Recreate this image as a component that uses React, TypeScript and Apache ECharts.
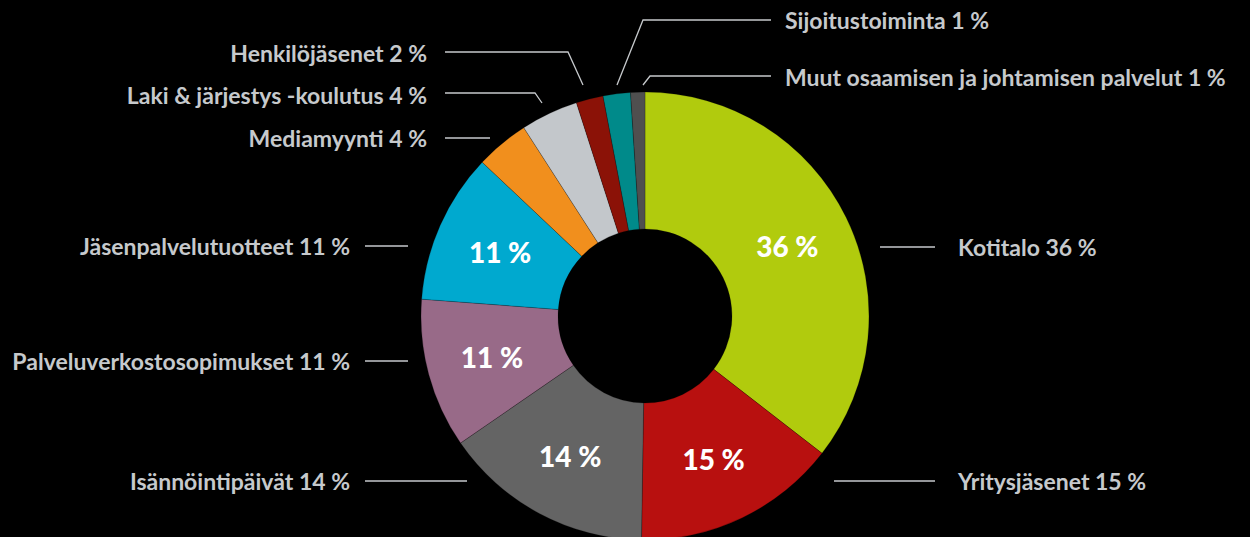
import React, { useEffect, useRef } from "react";
import * as echarts from "echarts";

const categories = [
  "Kotitalo",
  "Yritysjäsenet",
  "Isännöintipäivät",
  "Palveluverkostosopimukset",
  "Jäsenpalvelutuotteet",
  "Mediamyynti",
  "Laki & järjestys -koulutus",
  "Henkilöjäsenet",
  "Sijoitustoiminta",
  "Muut osaamisen ja johtamisen palvelut",
];
// slice shares
const shares = [35.5, 14.75, 15.15, 10.8, 10.85, 3.85, 4.15, 1.95, 1.97, 1.03];
// percentages as printed in the labels
const shownPercent = [36, 15, 14, 11, 11, 4, 4, 2, 1, 1];
const showInside = [true, true, true, true, true, false, false, false, false, false];

const colors = [
  "#b1cb0d",
  "#b8100f",
  "#646464",
  "#986a88",
  "#00a9cf",
  "#f18f1d",
  "#c3c7cb",
  "#8b1207",
  "#008a8a",
  "#4f4f4f",
];

// label placement (annotation layout, not data)
type Spot = { side: "left" | "right"; textX: number; y: number; lineY: number; line: [number, number]; kink?: [number, number] };
const labelSpots: Spot[] = [
  { side: "right", textX: 958, y: 247, lineY: 247, line: [880, 935] },
  { side: "right", textX: 958, y: 481, lineY: 481, line: [834, 935] },
  { side: "left", textX: 350, y: 481, lineY: 481, line: [365, 467] },
  { side: "left", textX: 350, y: 361, lineY: 361, line: [365, 408] },
  { side: "left", textX: 350, y: 246, lineY: 246, line: [365, 408] },
  { side: "left", textX: 427, y: 138, lineY: 138, line: [445, 490] },
  { side: "left", textX: 427, y: 95, lineY: 93, line: [445, 535], kink: [542, 103] },
  { side: "left", textX: 427, y: 53, lineY: 52, line: [445, 568], kink: [583, 85] },
  { side: "right", textX: 785, y: 20, lineY: 20, line: [771, 643], kink: [617, 85] },
  { side: "right", textX: 785, y: 77, lineY: 76, line: [771, 650], kink: [643, 85] },
];

const TEXT = "#c6c9cc";
const CENTER = [645, 316];
const RADIUS = [87, 224];

export default function App() {
  const ref = useRef<HTMLDivElement>(null);
  useEffect(() => {
    document.body.style.margin = "0";
    document.body.style.background = "#000";
    if (!ref.current) return;
    const chart = echarts.init(ref.current, null, { renderer: "svg" });
    const data = categories.map((name, i) => ({
      name,
      value: shares[i],
      itemStyle: { color: colors[i] },
    }));
    chart.setOption({
      animation: false,
      backgroundColor: "#000",
      series: [
        {
          type: "pie",
          center: CENTER,
          radius: RADIUS,
          startAngle: 90,
          clockwise: true,
          silent: true,
          avoidLabelOverlap: false,
          itemStyle: { borderColor: "rgba(0,0,0,0.35)", borderWidth: 0.6 },
          label: {
            show: true,
            position: "inside",
            color: "#fff",
            fontFamily: "Lato",
            fontWeight: 900,
            fontSize: 28,
            formatter: (p: any) => (showInside[p.dataIndex] ? `${shownPercent[p.dataIndex]} %` : ""),
          },
          labelLine: { show: false },
          data: data.map((d, i) => ({ ...d, label: { show: showInside[i] } })),
        },
        {
          type: "pie",
          center: CENTER,
          radius: RADIUS,
          startAngle: 90,
          clockwise: true,
          silent: true,
          avoidLabelOverlap: false,
          itemStyle: { color: "rgba(0,0,0,0)", borderWidth: 0 },
          label: {
            show: true,
            position: "outside",
            color: TEXT,
            fontFamily: "Lato",
            fontWeight: 700,
            fontSize: 23,
            formatter: (p: any) => `${p.name} ${shownPercent[p.dataIndex]} %`,
          },
          labelLine: { show: true, smooth: false, lineStyle: { color: TEXT, width: 1.3 } },
          labelLayout: (params: any) => {
            const s = labelSpots[params.dataIndex];
            const pts = s.kink
              ? [[s.line[0], s.lineY], [s.line[1], s.lineY], [s.kink[0], s.kink[1]]]
              : [[s.line[0], s.lineY], [s.line[1], s.lineY], [s.line[1], s.lineY]];
            return {
              x: s.textX,
              y: s.y,
              align: s.side === "right" ? "left" : "right",
              verticalAlign: "middle",
              labelLinePoints: pts,
            };
          },
          data: categories.map((name, i) => ({
            name,
            value: shares[i],
            itemStyle: { color: "rgba(0,0,0,0)" },
          })),
        },
      ],
    });
    return () => chart.dispose();
  }, []);
  return <div ref={ref} style={{ width: 1250, height: 537, background: "#000" }} />;
}
